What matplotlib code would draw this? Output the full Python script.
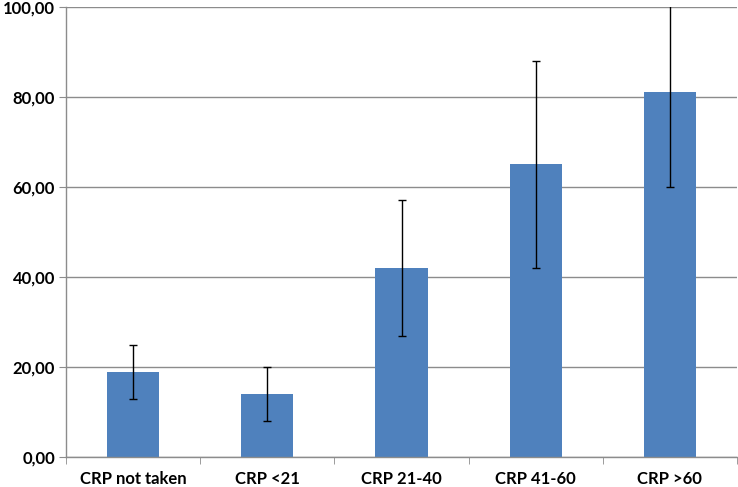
import matplotlib
matplotlib.use("Agg")
import matplotlib.pyplot as plt
import numpy as np

categories = ["CRP not taken", "CRP <21", "CRP 21-40", "CRP 41-60", "CRP >60"]
values = [19, 14, 42, 65, 81]
err_low = [13, 8, 27, 42, 60]
err_high = [25, 20, 57, 88, 102]
yticks = [0, 20, 40, 60, 80, 100]
ytick_labels = ["0,00", "20,00", "40,00", "60,00", "80,00", "100,00"]

plt.rcParams['font.family'] = ['Lato', 'DejaVu Sans']

fig = plt.figure(figsize=(7.38, 4.87), dpi=100)
ax = fig.add_axes([66/738, 1-457/487, (737-66)/738, 450/487])

x = np.arange(len(categories))
yerr = np.array([[v - l for v, l in zip(values, err_low)],
                 [h - v for v, h in zip(values, err_high)]])
ax.bar(x, values, width=0.39, color="#4F81BD", zorder=2)
ax.errorbar(x, values, yerr=yerr, fmt="none", ecolor="black", elinewidth=1.0,
            capsize=3, capthick=1.0, zorder=3)

ax.set_xlim(-0.5, len(categories) - 0.5)
ax.set_ylim(0, 100)
ax.set_yticks(yticks)
ax.set_yticklabels(ytick_labels, fontsize=12, fontweight="bold")
ax.yaxis.grid(True, color="#8c8c8c", linewidth=1.0, zorder=0)
ax.set_axisbelow(True)

ax.set_xticks(x)
ax.set_xticklabels(categories, fontsize=12, fontweight="bold")
ax.tick_params(axis="x", length=0, pad=10)
ax.set_xticks(np.arange(len(categories) + 1) - 0.5, minor=True)
ax.tick_params(axis="x", which="minor", length=5, color="#8c8c8c", direction="out")
ax.tick_params(axis="y", length=5, color="#8c8c8c", direction="out", pad=3)

for s in ["top", "right"]:
    ax.spines[s].set_visible(False)
for s in ["left", "bottom"]:
    ax.spines[s].set_color("#8c8c8c")
    ax.spines[s].set_linewidth(1.0)

fig.savefig("out.png", dpi=100)
